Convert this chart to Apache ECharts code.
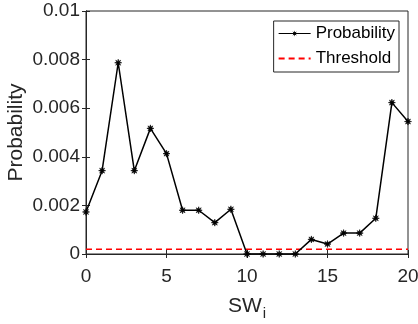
<!DOCTYPE html>
<html>
<head>
<meta charset="utf-8">
<script src="https://cdn.jsdelivr.net/npm/echarts@6/dist/echarts.min.js"></script>
<style>
  html, body { margin: 0; padding: 0; background: #fff; }
  #chart { width: 418px; height: 324px; }
</style>
</head>
<body>
<div id="chart"></div>
<script>
// values
var swIndex = [0, 1, 2, 3, 4, 5, 6, 7, 8, 9, 10, 11, 12, 13, 14, 15, 16, 17, 18, 19, 20];
var probability = [0.00173, 0.00343, 0.00787, 0.00343, 0.00517, 0.00413, 0.0018, 0.0018, 0.00129, 0.00184,
    0, 0, 0, 0, 0.0006, 0.00041, 0.00086, 0.00086, 0.00147, 0.00623, 0.00545];
var thresholdX = [0, 20];
var thresholdValue = 0.0002;

var axisColor = '#262626';
var font = 'Liberation Sans, Arial, Helvetica, sans-serif';

// asterisk-like star outline (matlab '*'), clockwise on screen
function starPts(cx, cy, ro, ri) {
    var pts = [];
    for (var k = 0; k < 16; k++) {
        var r = k % 2 === 0 ? ro : ri;
        var a = Math.PI / 2 - k * Math.PI / 8;
        pts.push((cx + r * Math.cos(a)).toFixed(2) + ' ' + (cy - r * Math.sin(a)).toFixed(2));
    }
    return 'M' + pts.join(' L') + ' Z';
}

var markerPath = 'path://' + starPts(10, 10, 10, 4);
// legend icon: line with a small star in the middle
var legendIcon = 'path://M0 2.4 L32 2.4 L32 3.6 L0 3.6 Z ' + starPts(16, 3, 3, 1.3);

var myChart = echarts.init(document.getElementById('chart'));

var probData = swIndex.map(function (x, i) { return [x, probability[i]]; });
var threshData = thresholdX.map(function (x) { return [x, thresholdValue]; });

var tickStyle = { show: true, inside: true, length: 4, lineStyle: { color: axisColor, width: 1 } };
var lineStyle = { show: true, lineStyle: { color: axisColor, width: 1 } };

var option = {
    animation: false,
    textStyle: { fontFamily: font },
    grid: {
        left: 86, right: 10, top: 11, bottom: 70,
        outerBoundsMode: 'none',
        containLabel: false,
        show: true,
        borderColor: axisColor,
        borderWidth: 1
    },
    legend: {
        right: 19,
        top: 21,
        orient: 'vertical',
        backgroundColor: '#fff',
        borderColor: axisColor,
        borderWidth: 1,
        borderRadius: 0,
        padding: [4, 4, 5, 4],
        itemWidth: 32,
        itemHeight: 6,
        itemGap: 8,
        textStyle: { fontFamily: font, fontSize: 17, color: '#000' },
        data: [
            { name: 'Probability', icon: legendIcon, itemStyle: { borderWidth: 0 } },
            { name: 'Threshold', itemStyle: { opacity: 0 } }
        ]
    },
    xAxis: [{
        type: 'value',
        min: 0,
        max: 20,
        interval: 5,
        name: '{a|SW}{b|i}',
        nameLocation: 'middle',
        nameGap: 38,
        nameMoveOverlap: false,
        nameTextStyle: {
            rich: {
                a: { fontFamily: font, fontSize: 21, color: axisColor },
                b: { fontFamily: font, fontSize: 15, color: axisColor, padding: [14, 0, 0, 1] }
            }
        },
        axisLine: lineStyle,
        axisTick: tickStyle,
        axisLabel: { fontFamily: font, fontSize: 19, color: axisColor, margin: 13 },
        splitLine: { show: false }
    }, {
        type: 'value',
        position: 'top',
        min: 0,
        max: 20,
        interval: 5,
        axisLine: lineStyle,
        axisTick: tickStyle,
        axisLabel: { show: false },
        splitLine: { show: false }
    }],
    yAxis: [{
        type: 'value',
        min: 0,
        max: 0.01,
        interval: 0.002,
        name: 'Probability',
        nameLocation: 'middle',
        nameRotate: 90,
        nameGap: 59,
        nameMoveOverlap: false,
        nameTextStyle: { fontFamily: font, fontSize: 21, color: axisColor },
        axisLine: lineStyle,
        axisTick: tickStyle,
        axisLabel: {
            fontFamily: font, fontSize: 19, color: axisColor, margin: 6,
            formatter: function (v) { return v === 0 ? '0' : String(+v.toFixed(3)); }
        },
        splitLine: { show: false }
    }, {
        type: 'value',
        position: 'right',
        min: 0,
        max: 0.01,
        interval: 0.002,
        axisLine: lineStyle,
        axisTick: tickStyle,
        axisLabel: { show: false },
        splitLine: { show: false }
    }],
    series: [{
        name: 'Probability',
        type: 'line',
        data: probData,
        symbol: markerPath,
        symbolSize: 7,
        showSymbol: true,
        lineStyle: { color: '#000', width: 1.5 },
        itemStyle: { color: '#000', borderColor: '#000', borderWidth: 0.6 },
        z: 3
    }, {
        name: 'Threshold',
        type: 'line',
        data: threshData,
        symbol: 'none',
        lineStyle: { color: '#ff0000', width: 1.5, type: [6, 4] },
        itemStyle: { color: '#ff0000' },
        z: 2
    }]
};

myChart.setOption(option);
</script>
</body>
</html>
